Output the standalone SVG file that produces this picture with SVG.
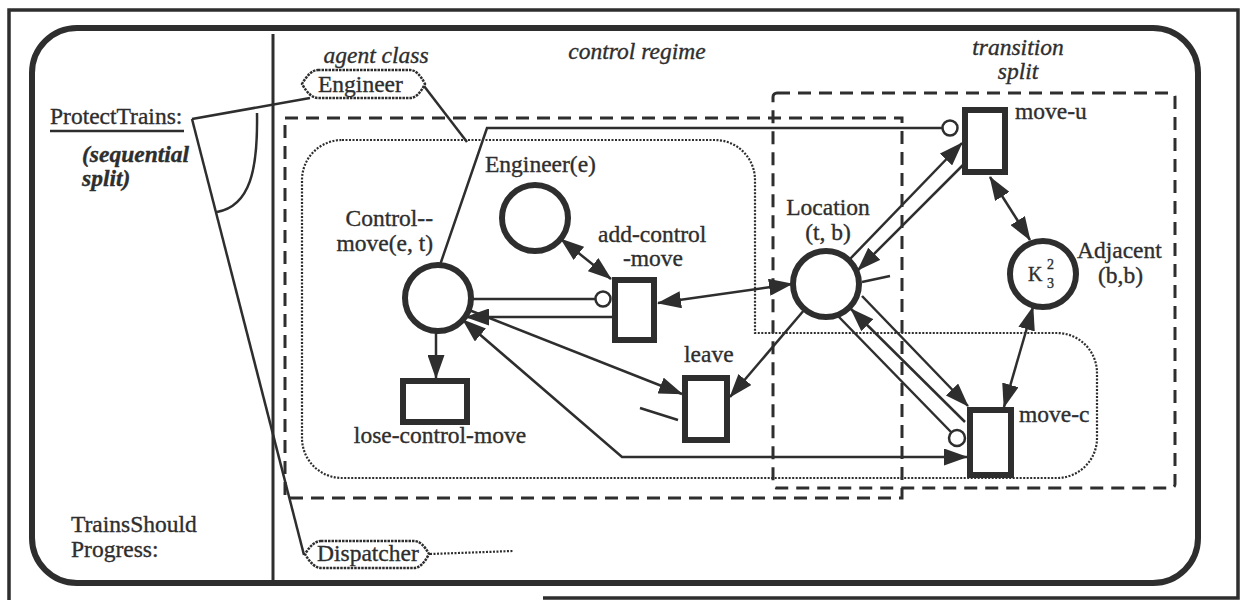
<svg xmlns="http://www.w3.org/2000/svg" width="1241" height="600" viewBox="0 0 1241 600">
<defs>
  <marker id="arrow" markerUnits="userSpaceOnUse" markerWidth="24" markerHeight="17" viewBox="0 0 24 17" refX="23" refY="8.5" orient="auto-start-reverse">
    <path d="M0,0 L24,8.5 L0,17 Z" fill="#2e2e2e"/>
  </marker>
  <style>
    .frame{stroke:#2e2e2e;fill:none}
    .place{stroke:#2e2e2e;stroke-width:6;fill:#fff}
    .trans{stroke:#2e2e2e;stroke-width:6;fill:#fff}
    .arc{stroke:#2e2e2e;stroke-width:2.5;fill:none}
    .bi{marker-start:url(#arrow);marker-end:url(#arrow)}
    .to{marker-end:url(#arrow)}
    .inhib{stroke:#2e2e2e;stroke-width:2.5;fill:#fff}
    .dash{stroke:#2e2e2e;stroke-width:3;fill:none;stroke-dasharray:13 8}
    .dot{stroke:#2e2e2e;stroke-width:2.2;fill:none;stroke-dasharray:2 1.5}
    .agent{stroke:#2e2e2e;stroke-width:2.5;fill:#fff;stroke-dasharray:2.5 1}
    text{font-family:"Liberation Serif","Times New Roman",serif;font-size:23.5px;fill:#2e2e2e;stroke:#2e2e2e;stroke-width:0.35}
    .it{font-style:italic}
    .mid{text-anchor:middle}
    .sym{font-size:20px}
    .idx{font-size:14px}
  </style>
</defs>
<rect width="1241" height="600" fill="#fff"/>

<!-- page frame, rounded panel and column divider -->
<g id="frame">
  <path class="frame" stroke-width="3.5" d="M9,600 V10 H1238 V598 H543"/>
  <rect class="frame" stroke-width="6" x="32" y="28" width="1166" height="555" rx="45"/>
  <line class="frame" stroke-width="3" x1="273" y1="34" x2="273" y2="583"/>
</g>

<!-- left column: requirement names -->
<g id="requirements">
  <text x="50" y="124">ProtectTrains:</text>
  <line class="frame" stroke-width="2.5" x1="50" y1="131" x2="184" y2="131"/>
  <text class="it" font-weight="bold" x="82" y="162">(sequential</text>
  <text class="it" font-weight="bold" x="82" y="186">split)</text>
  <text x="71" y="532">TrainsShould</text>
  <text x="71" y="557">Progress:</text>
  <!-- split wedge -->
  <path class="arc" stroke-width="2" d="M192,119 L310,98"/>
  <path class="arc" stroke-width="2" d="M192,119 L304,555"/>
  <path class="arc" stroke-width="2" d="M257,113 C258,170 250,206 217,212"/>
</g>

<!-- captions -->
<g id="captions">
  <text class="it mid" x="376" y="63">agent class</text>
  <text class="it mid" x="637" y="59">control regime</text>
  <text class="it mid" x="1018" y="55">transition</text>
  <text class="it mid" x="1018" y="79">split</text>
</g>

<!-- region outlines -->
<g id="regions">
  <rect id="control-regime-box" class="dash" x="285" y="118" width="617" height="380"/>
  <rect id="transition-split-box" class="dash" x="773" y="93" width="402" height="395" rx="4"/>
  <path id="control-regime-scope" class="dot" d="M342,140 H715 A40,40 0 0 1 755,180 V333 H1057 A40,40 0 0 1 1097,373 V438 A40,40 0 0 1 1057,478 H342 A40,40 0 0 1 302,438 V180 A40,40 0 0 1 342,140 Z"/>
</g>

<!-- arcs -->
<g id="connectors">
  <path class="arc" stroke-width="2" d="M424,86 L467,142"/>
  <path class="arc" stroke-width="2" d="M440,265 L487,128 L943,128"/>
  <path class="dot" stroke-width="2.5" d="M430,554 L513,551"/>
  <path class="arc bi" d="M561,239 L611,279"/>
  <path class="arc to" d="M612,317 L466,317"/>
  <path class="arc" d="M471,299 L595,299"/>
  <path class="arc to" d="M436,331 L436,378"/>
  <path class="arc to" d="M469,310 L682,394"/>
  <path class="arc bi" d="M463,320 L622,457 L967,457"/>
  <path class="arc" d="M640,408 L678,420"/>
  <path class="arc bi" d="M658,303 L792,284"/>
  <path class="arc to" d="M805,309 L730,397"/>
  <path class="arc to" d="M850,259 L962,143"/>
  <path class="arc to" d="M963,165 L858,270"/>
  <path class="arc" d="M862,282 L890,276"/>
  <path class="arc bi" d="M990,177 L1030,240"/>
  <path class="arc to" d="M862,296 L968,406"/>
  <path class="arc to" d="M965,422 L851,309"/>
  <path class="arc" d="M838,316 L951,432"/>
  <path class="arc bi" d="M1033,307 L1004,407"/>
</g>

<!-- agents -->
<g id="agent-engineer">
  <path class="agent" d="M318,70 H410 Q418,70 425,84 Q418,98 410,98 H318 Q310,98 302,84 Q310,70 318,70 Z"/>
  <text x="318" y="92">Engineer</text>
</g>
<g id="agent-dispatcher">
  <path class="agent" d="M321,541 H414 Q422,541 429,554 Q422,568 414,568 H321 Q313,568 305,554 Q313,541 321,541 Z"/>
  <text x="317" y="561">Dispatcher</text>
</g>

<!-- places -->
<g id="place-control-move">
  <circle class="place" cx="438" cy="298" r="33"/>
  <text text-anchor="end" x="433" y="226">Control--</text>
  <text text-anchor="end" x="433" y="251">move(e, t)</text>
</g>
<g id="place-engineer">
  <circle class="place" cx="535" cy="218" r="33"/>
  <text x="485" y="172">Engineer(e)</text>
</g>
<g id="place-location">
  <circle class="place" cx="826" cy="284" r="33"/>
  <text class="mid" x="828" y="215">Location</text>
  <text class="mid" x="828" y="240">(t, b)</text>
</g>
<g id="place-adjacent">
  <circle class="place" cx="1043" cy="274" r="33"/>
  <text class="sym" x="1028" y="281">K</text>
  <text class="idx" x="1047" y="269">2</text>
  <text class="idx" x="1047" y="288">3</text>
  <text x="1077" y="258">Adjacent</text>
  <text x="1098" y="283">(b,b)</text>
</g>

<!-- transitions -->
<g id="trans-add-control-move">
  <rect class="trans" x="615" y="280" width="39" height="60"/>
  <circle class="inhib" cx="603" cy="299" r="7.5"/>
  <text x="598" y="242">add-control</text>
  <text x="623" y="266">-move</text>
</g>
<g id="trans-lose-control-move">
  <rect class="trans" x="403" y="381" width="64" height="41"/>
  <text class="mid" x="440" y="443">lose-control-move</text>
</g>
<g id="trans-leave">
  <rect class="trans" x="685" y="378" width="42" height="62"/>
  <text x="684" y="362">leave</text>
</g>
<g id="trans-move-u">
  <rect class="trans" x="965" y="110" width="40" height="62"/>
  <circle class="inhib" cx="950" cy="128" r="7.5"/>
  <text x="1015" y="119">move-u</text>
</g>
<g id="trans-move-c">
  <rect class="trans" x="970" y="410" width="41" height="65"/>
  <circle class="inhib" cx="957" cy="438" r="8"/>
  <text x="1019" y="422">move-c</text>
</g>
</svg>
